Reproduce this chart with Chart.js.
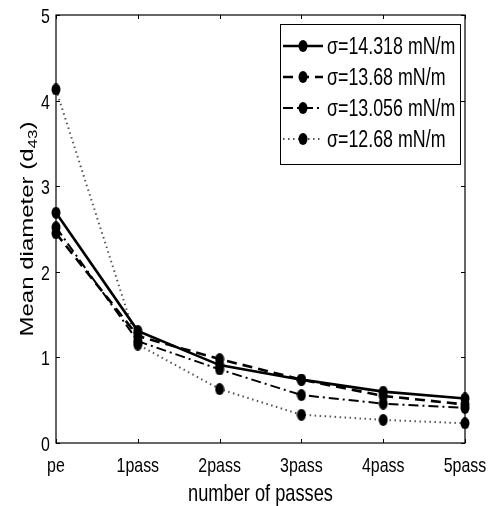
<!DOCTYPE html>
<html>
<head>
<meta charset="utf-8">
<script src="https://cdn.jsdelivr.net/npm/chart.js@4/dist/chart.umd.min.js"></script>
<style>
  html, body { margin: 0; padding: 0; background: #fff; }
  #wrap { width: 490px; height: 506px; }
</style>
</head>
<body>
<div id="wrap"><canvas id="myChart" width="490" height="506"></canvas></div>
<script>
const passes = ["pe", "1pass", "2pass", "3pass", "4pass", "5pass"];
const yTicks = [0, 1, 2, 3, 4, 5];

const sigma14318 = [2.69, 1.31, 0.91, 0.74, 0.60, 0.52];
const sigma1368 = [2.45, 1.25, 0.98, 0.74, 0.55, 0.45];
const sigma13056 = [2.52, 1.19, 0.86, 0.56, 0.46, 0.41];
const sigma1268 = [4.13, 1.15, 0.63, 0.33, 0.27, 0.23];

const seriesLabels = ["σ=14.318 mN/m", "σ=13.68 mN/m", "σ=13.056 mN/m", "σ=12.68 mN/m"];

const font = "'Liberation Sans', Arial, Helvetica, sans-serif";
const squeeze = 0.76; // the figure is squashed sideways

// squashed round marker
const dot = document.createElement("canvas");
dot.width = 10;
dot.height = 12;
const dctx = dot.getContext("2d");
dctx.fillStyle = "#000";
dctx.beginPath();
dctx.ellipse(5, 6, 4.5, 5.9, 0, 0, Math.PI * 2);
dctx.fill();

const makeSet = (label, data, dash, width, color) => ({
  label: label,
  data: data,
  borderColor: color,
  backgroundColor: "#000",
  borderWidth: width,
  borderDash: dash,
  pointStyle: dot,
  pointRadius: 5,
  pointHoverRadius: 5,
  tension: 0,
  fill: false
});

const squeezedText = (ctx, text, x, y, size, align, sx) => {
  ctx.save();
  ctx.font = size + "px " + font;
  ctx.translate(x, y);
  ctx.scale(sx || squeeze, 1);
  ctx.textAlign = align;
  ctx.fillText(text, 0, 0);
  ctx.restore();
};

// frame, inward ticks and all axis texts, matlab style
const framePlugin = {
  id: "frame",
  afterDatasetsDraw(chart) {
    const { ctx, chartArea: a, scales } = chart;
    ctx.save();
    ctx.strokeStyle = "#000";
    ctx.lineWidth = 1.2;
    ctx.strokeRect(a.left, a.top, a.right - a.left, a.bottom - a.top);
    ctx.lineWidth = 1;
    const len = 4;
    ctx.beginPath();
    yTicks.forEach(v => {
      const y = Math.round(scales.y.getPixelForValue(v)) + 0.5;
      ctx.moveTo(a.left, y); ctx.lineTo(a.left + len, y);
      ctx.moveTo(a.right, y); ctx.lineTo(a.right - len, y);
    });
    passes.forEach((p, i) => {
      const x = Math.round(scales.x.getPixelForValue(i)) + 0.5;
      ctx.moveTo(x, a.bottom); ctx.lineTo(x, a.bottom - len);
      ctx.moveTo(x, a.top); ctx.lineTo(x, a.top + len);
    });
    ctx.stroke();

    ctx.fillStyle = "#000";
    ctx.textBaseline = "alphabetic";
    passes.forEach((p, i) => {
      squeezedText(ctx, p, scales.x.getPixelForValue(i), a.bottom + 29, 21, "center");
    });
    yTicks.forEach(v => {
      squeezedText(ctx, String(v), a.left - 6, scales.y.getPixelForValue(v) + 8, 21, "right");
    });
    squeezedText(ctx, "number of passes", (a.left + a.right) / 2, a.bottom + 58, 24, "center");

    // y title with subscript, squashed across its length
    const main = "Mean diameter (d";
    const sub = "43";
    ctx.save();
    ctx.translate(33, (a.top + a.bottom) / 2);
    ctx.rotate(-Math.PI / 2);
    ctx.scale(1, squeeze);
    ctx.font = "24px " + font;
    const w1 = ctx.measureText(main).width;
    ctx.font = "17px " + font;
    const w2 = ctx.measureText(sub).width;
    ctx.font = "24px " + font;
    const w3 = ctx.measureText(")").width;
    let x = -(w1 + w2 + w3) / 2;
    ctx.textAlign = "left";
    ctx.fillText(main, x, 0);
    x += w1;
    ctx.font = "17px " + font;
    ctx.fillText(sub, x, 5);
    x += w2;
    ctx.font = "24px " + font;
    ctx.fillText(")", x, 0);
    ctx.restore();
    ctx.restore();
  }
};

// legend box drawn top right inside the plot
const legendPlugin = {
  id: "boxLegend",
  afterDraw(chart) {
    const { ctx, chartArea: a } = chart;
    const boxW = 180, rowH = 31;
    const right = a.right - 5, top = a.top + 9;
    const left = right - boxW;
    const sets = chart.data.datasets;
    const boxH = rowH * sets.length + 16;
    ctx.save();
    ctx.fillStyle = "#fff";
    ctx.fillRect(left, top, boxW, boxH);
    ctx.strokeStyle = "#000";
    ctx.lineWidth = 1;
    ctx.strokeRect(left + 0.5, top + 0.5, boxW, boxH);
    sets.forEach((ds, i) => {
      const cy = top + 22 + i * rowH;
      ctx.strokeStyle = ds.borderColor;
      ctx.lineWidth = ds.borderWidth;
      ctx.setLineDash(ds.borderDash);
      ctx.beginPath();
      ctx.moveTo(left + 3, cy);
      ctx.lineTo(left + 43, cy);
      ctx.stroke();
      ctx.setLineDash([]);
      ctx.drawImage(dot, left + 18, cy - 6);
      ctx.fillStyle = "#000";
      ctx.textBaseline = "alphabetic";
      squeezedText(ctx, ds.label, left + 47, cy + 8, 23, "left", 0.775);
    });
    ctx.restore();
  }
};

const ctx = document.getElementById("myChart");

new Chart(ctx, {
  type: "line",
  data: {
    labels: passes,
    datasets: [
      makeSet(seriesLabels[0], sigma14318, [], 2.6, "#000"),
      makeSet(seriesLabels[1], sigma1368, [10, 6], 2.6, "#000"),
      makeSet(seriesLabels[2], sigma13056, [10, 4, 2, 4], 2, "#000"),
      makeSet(seriesLabels[3], sigma1268, [1.5, 3.5], 2, "#555")
    ]
  },
  options: {
    responsive: false,
    animation: false,
    layout: { padding: { top: 15, right: 25, left: 0, bottom: 0 } },
    plugins: {
      legend: { display: false },
      tooltip: { enabled: false }
    },
    scales: {
      x: {
        type: "category",
        offset: false,
        grid: { display: false, drawTicks: false },
        border: { display: false },
        ticks: { display: false },
        afterFit: (scale) => { scale.height = 63; }
      },
      y: {
        min: 0,
        max: 5,
        grid: { display: false, drawTicks: false },
        border: { display: false },
        afterBuildTicks: (scale) => { scale.ticks = yTicks.map(v => ({ value: v })); },
        ticks: { display: false },
        afterFit: (scale) => { scale.width = 56; }
      }
    }
  },
  plugins: [framePlugin, legendPlugin]
});
</script>
</body>
</html>
